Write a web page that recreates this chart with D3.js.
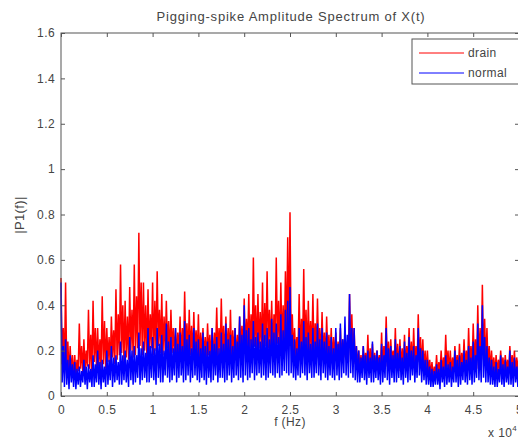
<!DOCTYPE html>
<meta charset="utf-8">
<title>Pigging-spike Amplitude Spectrum of X(t)</title>
<style>
body{margin:0;background:#fff;}
text{font-family:"Liberation Sans",Arial,sans-serif;font-size:12px;letter-spacing:0.4px;fill:#444;}
.axis line{stroke:#555;}
.axis path{display:none;}
.series{fill:none;stroke-width:1.5px;stroke-linejoin:miter;}
</style>
<body>
<script src="https://d3js.org/d3.v7.min.js"></script>
<script>

// frequency ticks in Hz, shown as multiples of 10^4
var xTicks=[0,5000,10000,15000,20000,25000,30000,35000,40000,45000,50000];
var yTicks=[0,0.2,0.4,0.6,0.8,1,1.2,1.4,1.6];
var fStep=125; // Hz between spectrum samples
var seriesNames=["drain","normal"];

// |P1(f)|, one row per 2500 Hz
var drain=[
 .52,.14,.30,.10, .50,.12,.24,.09, .22,.10,.18,.08, .18,.09,.16,.11, .32,.12,.22,.10,
 .25,.11,.20,.13, .38,.12,.27,.10, .42,.15,.30,.12, .30,.13,.25,.11, .44,.14,.33,.12,
 .30,.15,.26,.13, .35,.17,.29,.14, .47,.16,.36,.18, .58,.19,.40,.15, .42,.17,.35,.16,
 .48,.20,.38,.17, .58,.18,.44,.21, .72,.22,.50,.18, .50,.20,.40,.17, .47,.19,.36,.21,
 .50,.18,.42,.20, .55,.22,.38,.19, .45,.18,.35,.20, .42,.21,.33,.17, .38,.19,.30,.18,
 .30,.17,.28,.19, .35,.16,.30,.18, .46,.20,.32,.17, .38,.18,.31,.16, .37,.19,.29,.17,
 .36,.16,.28,.18, .30,.17,.26,.15, .32,.18,.27,.16, .30,.15,.28,.19, .39,.17,.30,.18,
 .43,.19,.31,.16, .35,.18,.30,.17, .38,.16,.29,.19, .30,.17,.27,.18, .35,.20,.31,.18,
 .43,.19,.34,.21, .45,.20,.36,.18, .61,.22,.40,.19, .45,.21,.37,.20, .50,.19,.41,.22,
 .55,.21,.38,.20, .42,.19,.36,.22, .61,.23,.42,.20, .50,.22,.40,.21, .55,.24,.70,.23,
 .81,.22,.36,.18, .30,.16,.26,.19, .45,.18,.34,.20, .56,.19,.38,.17, .42,.20,.33,.18,
 .45,.17,.32,.19, .43,.18,.30,.16, .37,.17,.28,.15, .35,.18,.27,.16, .30,.15,.26,.17,
 .28,.16,.24,.14, .30,.15,.25,.17, .28,.16,.24,.15, .45,.18,.36,.17, .30,.14,.22,.13,
 .20,.12,.18,.11, .22,.13,.19,.12, .27,.11,.21,.13, .23,.12,.19,.11, .20,.13,.18,.12,
 .28,.12,.22,.14, .35,.13,.24,.12, .25,.14,.20,.13, .30,.12,.23,.11, .25,.13,.21,.12,
 .27,.12,.22,.14, .30,.13,.24,.12, .30,.14,.22,.13, .36,.15,.26,.12, .25,.11,.20,.10,
 .20,.10,.16,.09, .15,.08,.13,.09, .18,.09,.15,.10, .20,.10,.17,.11, .27,.12,.20,.10,
 .20,.10,.17,.11, .22,.12,.18,.10, .23,.11,.19,.12, .25,.12,.20,.11, .30,.13,.22,.12,
 .32,.14,.25,.12, .40,.15,.30,.14, .49,.16,.34,.13, .30,.12,.22,.11, .20,.11,.17,.10,
 .18,.10,.16,.11, .20,.12,.17,.10, .18,.11,.16,.10, .22,.12,.18,.11, .20,.10,.17,.11,
 .18
];
var normal=[
 .50,.06,.22,.04, .25,.05,.16,.03, .18,.06,.14,.04, .15,.03,.12,.05, .13,.04,.11,.06,
 .16,.05,.13,.03, .14,.06,.12,.04, .18,.04,.14,.06, .20,.05,.15,.03, .16,.06,.13,.04,
 .20,.05,.16,.07, .22,.04,.17,.06, .18,.07,.15,.05, .24,.05,.18,.07, .20,.06,.16,.04,
 .26,.07,.20,.05, .22,.06,.18,.08, .28,.05,.21,.07, .24,.08,.19,.06, .30,.06,.22,.08,
 .26,.07,.21,.05, .30,.08,.23,.06, .27,.06,.20,.09, .32,.08,.24,.06, .26,.07,.21,.09,
 .30,.06,.23,.08, .28,.09,.22,.06, .33,.07,.25,.09, .27,.06,.21,.08, .30,.09,.24,.07,
 .25,.06,.21,.08, .28,.07,.22,.05, .24,.08,.20,.06, .30,.07,.23,.09, .26,.06,.21,.08,
 .28,.08,.23,.06, .32,.07,.25,.09, .27,.06,.22,.08, .30,.09,.24,.07, .35,.08,.27,.06,
 .40,.09,.29,.07, .30,.08,.25,.10, .33,.07,.26,.09, .28,.10,.24,.08, .32,.09,.27,.07,
 .30,.08,.25,.10, .34,.09,.28,.08, .32,.10,.26,.08, .36,.09,.29,.11, .38,.10,.42,.09,
 .48,.10,.27,.08, .25,.07,.21,.09, .30,.08,.24,.10, .33,.09,.26,.07, .28,.10,.23,.08,
 .30,.08,.24,.10, .32,.09,.25,.07, .30,.10,.24,.08, .28,.07,.22,.09, .26,.08,.21,.07,
 .30,.09,.23,.07, .32,.08,.25,.10, .35,.09,.27,.08, .45,.10,.30,.08, .30,.07,.22,.06,
 .20,.06,.17,.08, .22,.07,.18,.05, .20,.08,.17,.06, .24,.06,.18,.08, .20,.07,.17,.05,
 .23,.06,.18,.08, .30,.07,.21,.05, .22,.08,.18,.06, .25,.06,.19,.08, .22,.07,.17,.05,
 .24,.08,.19,.06, .26,.07,.20,.09, .22,.06,.18,.08, .30,.09,.21,.06, .20,.07,.16,.05,
 .16,.05,.13,.04, .12,.04,.11,.05, .14,.05,.12,.03, .16,.06,.13,.04, .18,.05,.14,.06,
 .15,.04,.13,.06, .20,.06,.16,.04, .18,.05,.15,.07, .20,.06,.16,.05, .22,.07,.17,.05,
 .24,.06,.18,.08, .32,.07,.22,.06, .40,.08,.26,.06, .22,.06,.17,.05, .16,.05,.13,.04,
 .15,.04,.12,.06, .18,.05,.14,.04, .16,.06,.13,.05, .20,.05,.15,.04, .17,.06,.13,.04,
 .18
];
var color={drain:"#ff0000",normal:"#0000ff"};

var W=518,H=440;
var margin={top:33,left:61,right:-1,bottom:44};
var w=W-margin.left-margin.right, h=H-margin.top-margin.bottom;

var svg=d3.select("body").append("svg").attr("width",W).attr("height",H);
var g=svg.append("g").attr("transform","translate("+margin.left+","+margin.top+")");

var x=d3.scaleLinear().domain([0,50000]).range([0,w]);
var y=d3.scaleLinear().domain([0,1.6]).range([h,0]);

var line=d3.line()
	.x((d,i)=>x(i*fStep))
	.y(d=>y(d));

g.append("path").datum(drain).attr("class","series").attr("stroke",color.drain).attr("d",line);
g.append("path").datum(normal).attr("class","series").attr("stroke",color.normal).attr("d",line);

// axes, MATLAB style with ticks pointing in
g.append("g").attr("class","axis").attr("transform","translate(0,"+h+")")
	.call(d3.axisBottom(x).tickValues(xTicks).tickFormat(d=>d/1e4).tickSizeInner(-4).tickSizeOuter(0).tickPadding(9));
g.append("g").attr("class","axis")
	.call(d3.axisTop(x).tickValues(xTicks).tickFormat("").tickSizeInner(-4).tickSizeOuter(0));
g.append("g").attr("class","axis")
	.call(d3.axisLeft(y).tickValues(yTicks).tickFormat(d=>d).tickSizeInner(-4).tickSizeOuter(0).tickPadding(6));
g.append("g").attr("class","axis").attr("transform","translate("+w+",0)")
	.call(d3.axisRight(y).tickValues(yTicks).tickFormat("").tickSizeInner(-4).tickSizeOuter(0));

g.append("rect").attr("width",w).attr("height",h)
	.attr("fill","none").attr("stroke","#555");

svg.append("text").attr("x",291).attr("y",21).attr("text-anchor","middle")
	.style("font-size","13px").style("letter-spacing","0.8px")
	.text("Pigging-spike Amplitude Spectrum of X(t)");
svg.append("text").attr("x",290).attr("y",426).attr("text-anchor","middle").text("f (Hz)");
var ex=svg.append("text").attr("x",488).attr("y",437);
ex.append("tspan").text("x 10");
ex.append("tspan").attr("dy",-6).style("font-size","8px").text("4");
svg.append("text").attr("transform","translate(24,215) rotate(-90)")
	.attr("text-anchor","middle").style("font-size","13px").text("|P1(f)|");

// legend
var lg=svg.append("g").attr("transform","translate(412,39)");
lg.append("rect").attr("width",110).attr("height",45)
	.attr("fill","#fff").attr("stroke","#555");
seriesNames.forEach(function(s,i){
	var yy=14+i*20;
	lg.append("line").attr("x1",7).attr("x2",52).attr("y1",yy).attr("y2",yy)
		.attr("stroke",color[s]);
	lg.append("text").attr("x",56).attr("y",yy+4).text(s);
});
</script>
</body>
